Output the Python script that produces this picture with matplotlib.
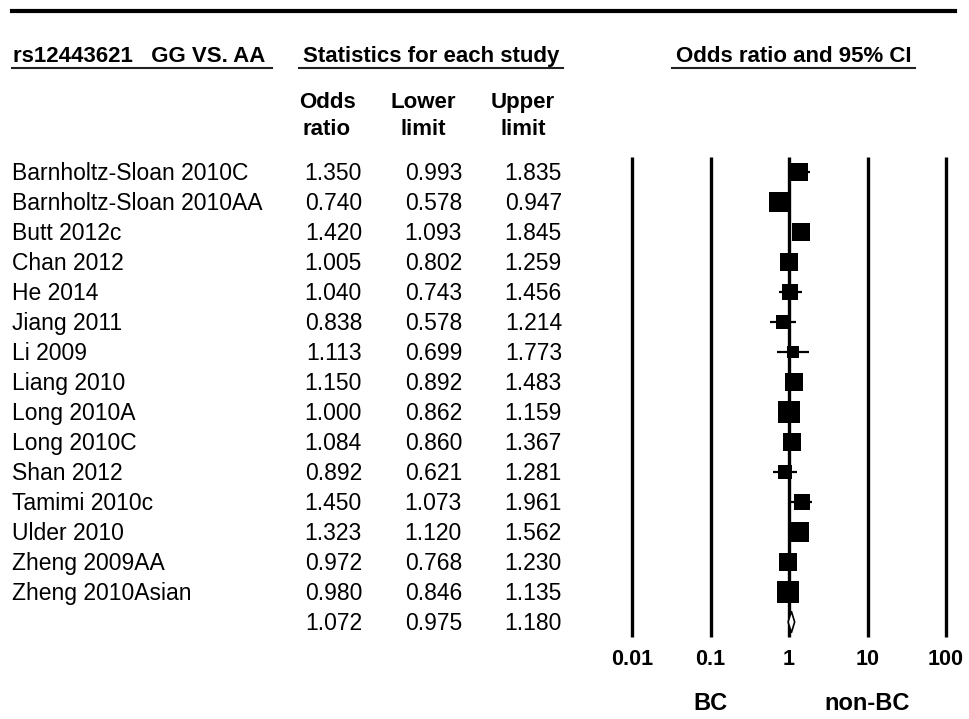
import matplotlib
matplotlib.use('Agg')
import matplotlib.pyplot as plt
from matplotlib.lines import Line2D
from matplotlib.patches import Polygon
from matplotlib.transforms import blended_transform_factory
import numpy as np

# data
studies = ['Barnholtz-Sloan 2010C', 'Barnholtz-Sloan 2010AA', 'Butt 2012c', 'Chan 2012',
           'He 2014', 'Jiang 2011', 'Li 2009', 'Liang 2010', 'Long 2010A', 'Long 2010C',
           'Shan 2012', 'Tamimi 2010c', 'Ulder 2010', 'Zheng 2009AA', 'Zheng 2010Asian']
odds = [1.350, 0.740, 1.420, 1.005, 1.040, 0.838, 1.113, 1.150, 1.000, 1.084,
        0.892, 1.450, 1.323, 0.972, 0.980]
lower = [0.993, 0.578, 1.093, 0.802, 0.743, 0.578, 0.699, 0.892, 0.862, 0.860,
         0.621, 1.073, 1.120, 0.768, 0.846]
upper = [1.835, 0.947, 1.845, 1.259, 1.456, 1.214, 1.773, 1.483, 1.159, 1.367,
         1.281, 1.961, 1.562, 1.230, 1.135]
# relative weights (%), estimated from the square areas
weights = [6.4, 8.0, 6.4, 7.2, 5.0, 4.3, 3.4, 7.2, 10.2, 7.2, 4.0, 5.0, 8.8, 7.2, 9.8]
summary_or, summary_lo, summary_hi = 1.072, 0.975, 1.180
tick_vals = [0.01, 0.1, 1, 10, 100]
tick_labels = ['0.01', '0.1', '1', '10', '100']

W, H = 969, 719
plt.rcParams['font.family'] = ['Liberation Sans', 'DejaVu Sans']


def fx(px):
    return px / W


def fy(py):
    return 1 - py / H


fig = plt.figure(figsize=(W / 100, H / 100), dpi=100)

# forest plot area: one row = 30 px, rows start at y=172
ax = fig.add_axes([fx(632), fy(637), fx(946) - fx(632), (637 - 157) / H])
ax.set_xscale('log')
ax.set_xlim(0.01, 100)
n = len(studies)
ax.set_ylim(n + 0.5, -0.5)
ax.axis('off')

ax.vlines(tick_vals, -0.5, n + 0.5, color='black', lw=2.4, clip_on=False)

rows = np.arange(n)
ax.hlines(rows, lower, upper, color='black', lw=1.6, zorder=2)
max_side = 21.5  # px, for the largest weight
for i in range(n):
    side = max_side * np.sqrt(weights[i] / max(weights))
    ax.plot(odds[i], i, marker='s', ms=side * 0.72, color='black', mew=0, zorder=3)

diamond = Polygon([(summary_lo, n), (summary_or, n - 0.36), (summary_hi, n), (summary_or, n + 0.36)],
                  closed=True, facecolor='white', edgecolor='black', lw=1.2, zorder=3)
ax.add_patch(diamond)

for v, lab in zip(tick_vals, tick_labels):
    ax.text(v, n + 1.43, lab, ha='center', va='baseline', fontsize=15.5, fontweight='bold')
ax.text(0.1, n + 2.93, 'BC', ha='center', va='baseline', fontsize=17, fontweight='bold')
ax.text(10, n + 2.93, 'non-BC', ha='center', va='baseline', fontsize=17, fontweight='bold')

# table on the left
trans = blended_transform_factory(fig.transFigure, ax.transData)
names = studies + ['']
ors = odds + [summary_or]
los = lower + [summary_lo]
his = upper + [summary_hi]
for i in range(n + 1):
    y = i + 0.27
    ax.text(fx(12), y, names[i], transform=trans, ha='left', va='baseline', fontsize=16.5)
    ax.text(fx(362), y, '%.3f' % ors[i], transform=trans, ha='right', va='baseline', fontsize=16.5)
    ax.text(fx(462), y, '%.3f' % los[i], transform=trans, ha='right', va='baseline', fontsize=16.5)
    ax.text(fx(562), y, '%.3f' % his[i], transform=trans, ha='right', va='baseline', fontsize=16.5)

# headers
fig.add_artist(Line2D([fx(12), fx(955)], [fy(11), fy(11)], color='black', lw=3.0))
fig.text(fx(13), fy(62), 'rs12443621   GG VS. AA', ha='left', va='baseline', fontsize=16, fontweight='bold')
fig.text(fx(303), fy(62), 'Statistics for each study', ha='left', va='baseline', fontsize=16, fontweight='bold')
fig.text(fx(676), fy(62), 'Odds ratio and 95% CI', ha='left', va='baseline', fontsize=16, fontweight='bold')
for x0, x1 in [(12, 272), (299, 563), (672, 915)]:
    fig.add_artist(Line2D([fx(x0), fx(x1)], [fy(68), fy(68)], color='#222222', lw=1.5))

for cx, top, bottom in [(327, 'Odds', 'ratio'), (423, 'Lower', 'limit'), (523, 'Upper', 'limit')]:
    fig.text(fx(cx), fy(108), top, ha='center', va='baseline', fontsize=16, fontweight='bold')
    fig.text(fx(cx), fy(135), bottom, ha='center', va='baseline', fontsize=16, fontweight='bold')

fig.savefig('out.png', dpi=100)
